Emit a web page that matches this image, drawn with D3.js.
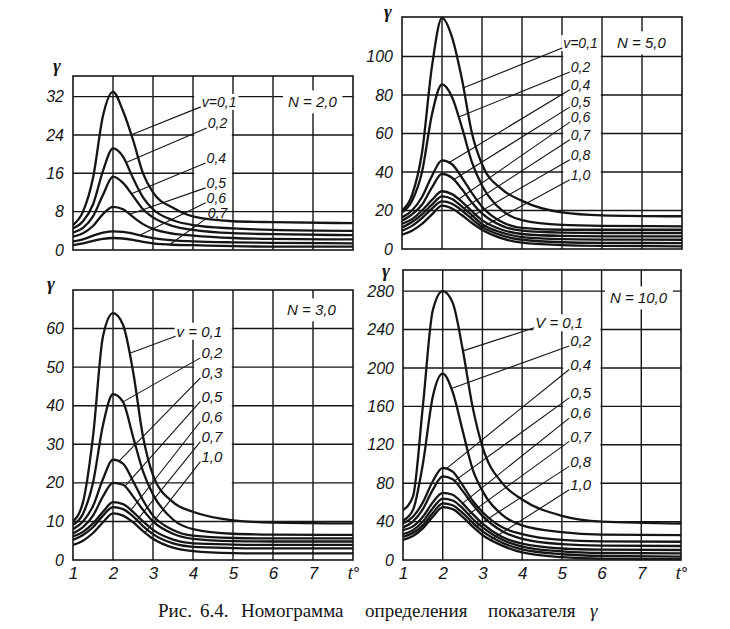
<!DOCTYPE html>
<html>
<head>
<meta charset="utf-8">
<script src="https://cdn.jsdelivr.net/npm/d3@7"></script>
<style>
    body { margin: 0; background: #fff; }
    svg text { font-family: 'Liberation Sans', Arial, sans-serif; font-style: italic; fill: #151515; }
    svg text.caption { font-family: 'Liberation Serif', 'DejaVu Serif', serif; font-style: normal; }
    svg text.gam { font-family: 'Liberation Serif', 'DejaVu Serif', serif; }
</style>
</head>
<body>
<svg id="chart" width="730" height="629"></svg>
<script>
// t sample points shared by every curve
const tSamples = [1, 1.25, 1.5, 1.75, 2, 2.25, 2.5, 2.75, 3, 3.5, 4, 5, 6, 8];

// N = 2,0
const vN2 = ['v=0,1', '0,2', '0,4', '0,5', '0,6', '0,7'];
const gammaN2 = [
    [5.2, 8, 15, 28, 33, 29, 23, 16, 12, 8.8, 7, 6, 5.8, 5.6],
    [4.5, 6, 9.5, 16.5, 21.2, 19.5, 15, 11, 8.5, 6.2, 5.2, 4.5, 4.2, 4.0],
    [3.6, 4.6, 7, 11.5, 15.3, 14, 11.3, 8.5, 6.8, 5, 4.2, 3.5, 3.3, 3.1],
    [2.8, 3.5, 5, 7.5, 9, 8.5, 6.9, 5.4, 4.4, 3.4, 3.0, 2.5, 2.3, 2.2],
    [1.8, 2.2, 3, 3.6, 3.9, 3.8, 3.4, 2.9, 2.5, 2.0, 1.8, 1.6, 1.5, 1.4],
    [1, 1.4, 1.9, 2.3, 2.5, 2.4, 2.1, 1.7, 1.4, 1.1, 1.0, 0.8, 0.7, 0.7]
];
const yTicksN2 = [0, 8, 16, 24, 32];

// N = 5,0
const vN5 = ['v=0,1', '0,2', '0,4', '0,5', '0,6', '0,7', '0,8', '1,0'];
const gammaN5 = [
    [20, 28, 50, 95, 120, 110, 88, 60, 44, 31, 25, 19, 17.5, 17],
    [19, 25, 40, 70, 85.5, 79, 63, 45, 33, 20, 15, 12.5, 12, 11.8],
    [16.4, 20, 27, 38, 46, 44, 37, 29, 22, 14, 11, 10, 10, 10],
    [14.7, 18, 23, 32, 39, 37, 31, 24, 18.5, 12, 9.5, 8.5, 8.3, 8.3],
    [13, 15.5, 20, 25.5, 30, 28.5, 24.5, 19.5, 15, 10, 7.8, 6.8, 6.6, 6.6],
    [11.2, 14, 18, 23, 27.3, 26, 22, 17.5, 13, 8.5, 6.2, 5.1, 4.9, 4.8],
    [9.5, 12, 16, 21, 24.7, 23.5, 20, 15.5, 11.5, 7, 4.8, 3.5, 3.2, 3.1],
    [7.4, 9.5, 13, 18, 22.5, 21, 17.5, 13.5, 10, 5.5, 3.3, 2, 1.6, 1.4]
];
const yTicksN5 = [0, 20, 40, 60, 80, 100];

// N = 3,0
const vN3 = ['v = 0,1', '0,2', '0,3', '0,5', '0,6', '0,7', '1,0'];
const gammaN3 = [
    [10, 15, 32, 58, 64, 61, 49, 32, 22, 15, 12.5, 10.3, 9.7, 9.5],
    [9.1, 12, 20, 35, 43, 41, 32, 23, 17, 10.5, 8, 6.8, 6.6, 6.5],
    [8, 10, 14, 21, 26, 25, 20.5, 15.5, 11.5, 7.8, 6.3, 5.7, 5.6, 5.6],
    [6.9, 8.5, 11.5, 16.5, 20, 19.5, 16.5, 13, 10, 6.8, 5.5, 4.9, 4.8, 4.8],
    [6.1, 7.3, 9.5, 12.5, 15, 14.5, 12.5, 10, 7.8, 5.3, 4.3, 4.0, 3.9, 3.9],
    [5.2, 6.5, 8.5, 11.5, 13.7, 13.2, 11.3, 8.8, 6.7, 4.3, 3.4, 3.1, 3.0, 3.0],
    [3.9, 5, 7, 9.8, 12.1, 11.5, 9.8, 7.5, 5.5, 3.2, 2.3, 1.8, 1.7, 1.7]
];
const yTicksN3 = [0, 10, 20, 30, 40, 50, 60];

// N = 10,0
const vN10 = ['V = 0,1', '0,2', '0,4', '0,5', '0,6', '0,7', '0,8', '1,0'];
const gammaN10 = [
    [52, 66, 160, 260, 280, 268, 220, 160, 118, 80, 63, 46, 40, 38],
    [41, 52, 100, 170, 194, 175, 135, 95, 72, 47, 36, 29, 26.5, 26],
    [38, 45, 60, 82, 96, 92, 78, 62, 50, 34, 27, 21, 19.5, 19],
    [34, 40, 53, 73, 87, 84, 72, 58, 46, 30, 22, 16.5, 15, 14.6],
    [31, 35, 45, 60, 70, 68, 59, 48, 38, 24, 17, 12, 10.8, 10.4],
    [27, 31, 40, 54, 64, 62, 54, 43, 34, 21, 14, 9, 7.3, 6.9],
    [24, 28, 36, 49, 59, 57, 49, 39, 30, 18, 11, 6, 4.2, 3.5],
    [21, 25, 33, 45, 55, 53, 45, 35, 26, 15, 8, 3, 1.5, 1]
];
const yTicksN10 = [0, 40, 80, 120, 160, 200, 240, 280];

// label anchors (t, gamma) and where each leader touches its curve (t)
const labelTN2 = [4.22, 4.37, 4.34, 4.34, 4.34, 4.37];
const labelGN2 = [30.9, 26.5, 19.2, 14.0, 10.9, 7.7];
const leaderTN2 = [2.46, 2.33, 2.46, 2.42, 2.67, 3.42];

const labelTN5 = [5.03, 5.22, 5.22, 5.22, 5.22, 5.22, 5.22, 5.22];
const labelGN5 = [107, 94.5, 85.3, 76.3, 68.5, 59.3, 49, 38.6];
const leaderTN5 = [2.54, 2.42, 2.18, 2.3, 2.42, 2.55, 2.7, 2.95];

const labelTN3 = [3.59, 4.21, 4.21, 4.21, 4.21, 4.21, 4.21];
const labelGN3 = [59.3, 53.7, 48.5, 42.4, 37.2, 32, 26.8];
const leaderTN3 = [2.42, 2.25, 2.15, 2.3, 2.45, 2.6, 2.8];

const labelTN10 = [4.33, 5.21, 5.21, 5.21, 5.21, 5.21, 5.21, 5.21];
const labelGN10 = [247, 228, 203.6, 174, 153, 128.7, 102.7, 78.3];
const leaderTN10 = [2.51, 2.22, 2.1, 2.3, 2.5, 2.65, 2.85, 3.2];

// caption words and where each one starts
const captionWords = ['Рис.', '6.4.', 'Номограмма', 'определения', 'показателя', 'γ'];
const captionX = [158, 200, 241, 365, 488, 590];

const panels = [
    { name: 'N = 2,0', box: [73, 76, 353, 250], yMax: 36.3, yTicks: yTicksN2, v: vN2, g: gammaN2,
      labT: labelTN2, labG: labelGN2, leadT: leaderTN2, mask: [4, 5, 8.5, 36.3], labSize: 14,
      nPos: [288, 102], gPos: [57, 72], xLabels: false },
    { name: 'N = 5,0', box: [402, 17, 682, 249], yMax: 120.5, yTicks: yTicksN5, v: vN5, g: gammaN5,
      labT: labelTN5, labG: labelGN5, leadT: leaderTN5, mask: [5, 6, 21, 120.5], labSize: 14,
      nPos: [617, 43], gPos: [388, 18], xLabels: false },
    { name: 'N = 3,0', box: [73, 290, 353, 560], yMax: 70, yTicks: yTicksN3, v: vN3, g: gammaN3,
      labT: labelTN3, labG: labelGN3, leadT: leaderTN3, mask: [4, 5, 10.8, 70], labSize: 15,
      nPos: [287, 310], gPos: [51, 290], xLabels: true },
    { name: 'N = 10,0', box: [403, 270, 681, 560], yMax: 302, yTicks: yTicksN10, v: vN10, g: gammaN10,
      labT: labelTN10, labG: labelGN10, leadT: leaderTN10, mask: [5, 6, 42, 262], labSize: 15,
      nPos: [610, 298], gPos: [386, 277], xLabels: true }
];

const svg = d3.select('#chart');
const ink = '#151515';

// find the point on a path whose x equals targetX (path is monotone in x)
function pointAtX(pathNode, targetX) {
    let lo = 0, hi = pathNode.getTotalLength();
    for (let i = 0; i < 40; i++) {
        const mid = (lo + hi) / 2;
        if (pathNode.getPointAtLength(mid).x < targetX) lo = mid; else hi = mid;
    }
    return pathNode.getPointAtLength((lo + hi) / 2);
}

panels.forEach((p, pi) => {
    const [x0, y0, x1, y1] = p.box;
    const x = d3.scaleLinear().domain([1, 8]).range([x0, x1]);
    const y = d3.scaleLinear().domain([0, p.yMax]).range([y1, y0]);
    const g = svg.append('g').attr('class', 'panel');

    const clipId = 'clip' + pi;
    g.append('clipPath').attr('id', clipId)
        .append('rect').attr('x', x0).attr('y', y0 - 1).attr('width', x1 - x0).attr('height', y1 - y0 + 2);

    // grid
    const grid = g.append('g');
    grid.selectAll('.vg')
        .data(d3.range(2, 8))
        .enter()
        .append('line')
        .attr('x1', d => x(d)).attr('x2', d => x(d))
        .attr('y1', y0).attr('y2', y1)
        .attr('stroke', ink).attr('stroke-width', 1.4);
    grid.selectAll('.hg')
        .data(p.yTicks.filter(d => d > 0))
        .enter()
        .append('line')
        .attr('x1', x0).attr('x2', x1)
        .attr('y1', d => y(d)).attr('y2', d => y(d))
        .attr('stroke', ink).attr('stroke-width', 1.4);

    // white column behind the labels
    const m = p.mask;
    const mTop = Math.max(y(m[3]), y0 + 1);
    g.append('rect')
        .attr('x', x(m[0]) + 1.2).attr('width', x(m[1]) - x(m[0]) - 2.4)
        .attr('y', mTop).attr('height', y(m[2]) - mTop)
        .attr('fill', '#fff');

    // frame
    g.append('rect')
        .attr('x', x0).attr('y', y0).attr('width', x1 - x0).attr('height', y1 - y0)
        .attr('fill', 'none').attr('stroke', ink).attr('stroke-width', 1.6);

    // y axis
    const yAxis = d3.axisLeft(y).tickValues(p.yTicks).tickSize(0).tickPadding(9);
    const ya = g.append('g').attr('transform', `translate(${x0},0)`).call(yAxis);
    ya.select('.domain').remove();
    ya.selectAll('text').attr('font-size', 16).attr('font-family', null).attr('fill', ink);

    g.append('text')
        .attr('class', 'gam')
        .attr('x', p.gPos[0]).attr('y', p.gPos[1])
        .attr('text-anchor', 'middle')
        .attr('font-size', 19).attr('font-weight', 'bold')
        .text('γ');

    // x axis for the bottom row
    if (p.xLabels) {
        const xAxis = d3.axisBottom(x).tickValues(d3.range(1, 9)).tickSize(0).tickPadding(7)
            .tickFormat(d => d === 8 ? 't°' : d);
        const xa = g.append('g').attr('transform', `translate(0,${y1})`).call(xAxis);
        xa.select('.domain').remove();
        xa.selectAll('text').attr('font-size', 17).attr('font-family', null).attr('fill', ink);
    }

    // curves
    const line = d3.line()
        .x((d, i) => x(tSamples[i]))
        .y(d => y(d))
        .curve(d3.curveMonotoneX);

    const paths = g.append('g').attr('clip-path', `url(#${clipId})`)
        .selectAll('path')
        .data(p.g)
        .enter()
        .append('path')
        .attr('d', line)
        .attr('fill', 'none')
        .attr('stroke', ink)
        .attr('stroke-width', 2.3)
        .attr('stroke-linejoin', 'round');

    // labels with leader lines
    const labels = g.append('g');
    p.v.forEach((txt, i) => {
        const lx = x(p.labT[i]);
        const ly = y(p.labG[i]);
        const t = labels.append('text')
            .attr('x', lx).attr('y', ly)
            .attr('dy', '0.36em')
            .attr('font-size', p.labSize)
            .text(txt);
        if (i === 0) {
            const bb = t.node().getBBox();
            labels.append('rect')
                .attr('x', bb.x - 2).attr('y', bb.y).attr('width', bb.width + 4).attr('height', bb.height)
                .attr('fill', '#fff');
            t.raise();
        }
        const pt = pointAtX(paths.nodes()[i], x(p.leadT[i]));
        labels.append('line')
            .attr('x1', lx - 1).attr('y1', ly + 5)
            .attr('x2', pt.x).attr('y2', pt.y)
            .attr('stroke', ink).attr('stroke-width', 1.1);
    });

    // N label on a white patch
    const nt = g.append('text')
        .attr('x', p.nPos[0]).attr('y', p.nPos[1])
        .attr('dy', '0.36em')
        .attr('font-size', 15)
        .text(p.name);
    const nb = nt.node().getBBox();
    g.append('rect')
        .attr('x', nb.x - 5).attr('y', nb.y - 3).attr('width', nb.width + 10).attr('height', nb.height + 6)
        .attr('fill', '#fff');
    nt.raise();
});

// caption, word by word as it is set in the book
svg.append('text')
    .attr('class', 'caption')
    .attr('y', 617)
    .attr('font-size', 19)
    .selectAll('tspan')
    .data(captionWords)
    .enter()
    .append('tspan')
    .attr('x', (d, i) => captionX[i])
    .attr('font-style', d => d === 'γ' ? 'italic' : null)
    .text(d => d);
</script>
</body>
</html>
